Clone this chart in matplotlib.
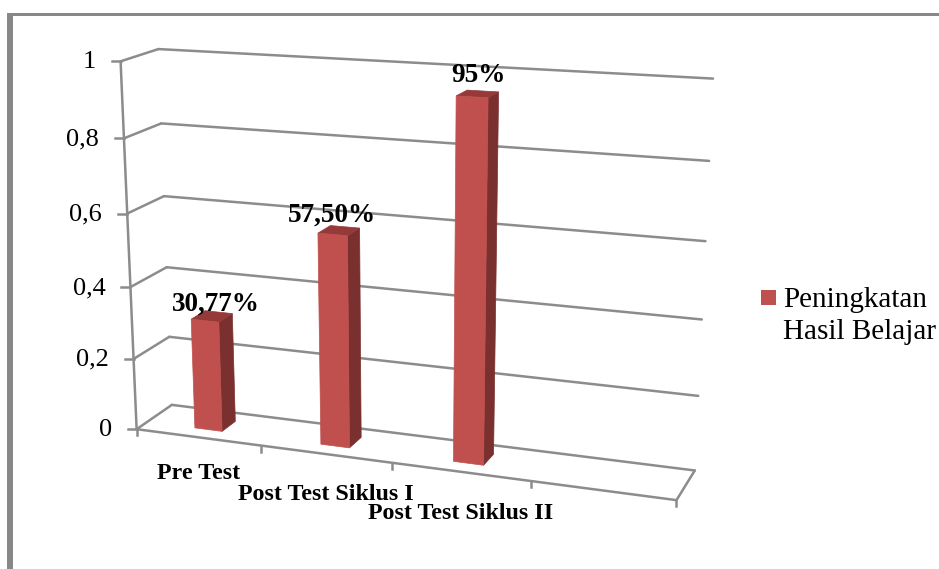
import numpy as np
import matplotlib
matplotlib.use("Agg")
import matplotlib.pyplot as plt
from matplotlib.patches import Polygon, Rectangle

categories = ["Pre Test", "Post Test Siklus I", "Post Test Siklus II"]
values = [0.3077, 0.575, 0.95]
value_labels = ["30,77%", "57,50%", "95%"]
y_ticks = [0, 0.2, 0.4, 0.6, 0.8, 1]
y_tick_labels = ["0", "0,2", "0,4", "0,6", "0,8", "1"]
legend_label = "Peningkatan\nHasil Belajar"

W, H = 939, 569
FONT = "Liberation Serif"
GRID = "#8c8c8c"
FRONT, SIDE, TOP = "#c0504d", "#7a302e", "#953a38"
SLOTS = 4  # the floor has room for one more, empty, category

# Perspective calibration: (category, value, depth) -> image pixel
world = np.array([[0,0,0],[0,1,0],[0,0,1],[0,1,1],[SLOTS,0,0],[SLOTS,0,1],[SLOTS,1,1],[1,0,0],[2,0,0],[3,0,0]], float)
image = np.array([[137,429],[121,61],[172,405],[158,49],[677,500],[695,470],[713,79],[261,446],[392,463],[530,481]], float)
rows = []
for (a, b, c), (x, y) in zip(world, image):
    rows.append([a, b, c, 1, 0, 0, 0, 0, -x*a, -x*b, -x*c, -x])
    rows.append([0, 0, 0, 0, a, b, c, 1, -y*a, -y*b, -y*c, -y])
P = np.linalg.svd(np.array(rows))[2][-1].reshape(3, 4)

def proj(u, v, w):
    q = P @ np.array([u, v, w, 1.0])
    return q[0] / q[2], q[1] / q[2]

fig = plt.figure(figsize=(W / 100, H / 100), dpi=100)
ax = fig.add_axes([0, 0, 1, 1])
ax.set_xlim(0, W)
ax.set_ylim(H, 0)
ax.axis("off")

# Outer frame
ax.add_patch(Rectangle((7, 13), W, 3, color="#888888", lw=0))
ax.add_patch(Rectangle((7, 13), 6, H, color="#888888", lw=0))

def line(a, b, lw=1.8):
    pa, pb = proj(*a), proj(*b)
    ax.plot([pa[0], pb[0]], [pa[1], pb[1]], color=GRID, lw=lw, solid_capstyle="round", zorder=2)

for v, lab in zip(y_ticks, y_tick_labels):
    line((0, v, 0), (0, v, 1))
    line((0, v, 1), (SLOTS, v, 1))
    x, y = proj(0, v, 0)
    ax.plot([x - 9, x], [y, y], color=GRID, lw=1.8, zorder=2)
    ax.text(x - 25, y + 1, lab, ha="right", va="center", family=FONT, fontsize=19, color="black")
line((0, 0, 0), (0, 1, 0))
line((0, 0, 0), (SLOTS, 0, 0))
line((SLOTS, 0, 0), (SLOTS, 0, 1))
for i in range(SLOTS + 1):
    x, y = proj(i, 0, 0)
    ax.plot([x, x], [y, y + 6], color=GRID, lw=1.8, zorder=2)

# Bars
hw, w0, w1 = 0.11, 0.3, 0.7
label_dx = [4, -7, 1]
label_dy = [-12, -15, -18]
for i, val in enumerate(values):
    u0, u1 = i + 0.5 - hw, i + 0.5 + hw
    side = [proj(u1, 0, w0), proj(u1, 0, w1), proj(u1, val, w1), proj(u1, val, w0)]
    top = [proj(u0, val, w0), proj(u1, val, w0), proj(u1, val, w1), proj(u0, val, w1)]
    front = [proj(u0, 0, w0), proj(u1, 0, w0), proj(u1, val, w0), proj(u0, val, w0)]
    ax.add_patch(Polygon(side, fc=SIDE, ec=SIDE, lw=0.5, zorder=3))
    ax.add_patch(Polygon(top, fc=TOP, ec=TOP, lw=0.5, zorder=3))
    ax.add_patch(Polygon(front, fc=FRONT, ec=FRONT, lw=0.5, zorder=4))
    x, y = proj(i + 0.5, val, 0.5)
    ax.text(x + label_dx[i], y + label_dy[i], value_labels[i], ha="center", va="center", family=FONT,
            fontsize=19.5, fontweight="bold", color="black", zorder=5)

# Category labels
cat_dy = [36, 40, 42]
for i, lab in enumerate(categories):
    x, y = proj(i + 0.5, 0, 0)
    ax.text(x, y + cat_dy[i], lab, ha="center", va="center", family=FONT,
            fontsize=17.3, fontweight="bold", color="black", zorder=5)

# Legend
ax.add_patch(Rectangle((761, 290), 15, 15, color=FRONT, lw=0))
ax.text(783, 316, legend_label, ha="left", va="center", family=FONT, fontsize=21,
        color="black", linespacing=1.32)

fig.savefig("out.png", dpi=100)
